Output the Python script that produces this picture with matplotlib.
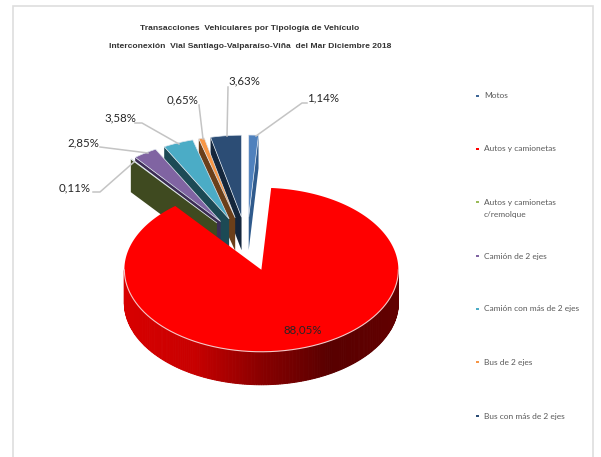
#!/usr/bin/env python3
import numpy as np
import matplotlib
matplotlib.use('Agg')
import matplotlib.pyplot as plt
from matplotlib.patches import Polygon, Rectangle
from matplotlib.colors import LinearSegmentedColormap

categorias = ['Motos', 'Autos y camionetas', 'Autos y camionetas\nc/remolque', 'Camión de 2 ejes',
              'Camión con más de 2 ejes', 'Bus de 2 ejes', 'Bus con más de 2 ejes']
valores = [1.14, 88.05, 0.11, 2.85, 3.58, 0.65, 3.63]
etiquetas = ['1,14%', '88,05%', '0,11%', '2,85%', '3,58%', '0,65%', '3,63%']

colores = ['#4f81bd', '#ff0000', '#9bbb59', '#8064a2', '#4bacc6', '#f79646', '#2c4d75']
colores_lado = ['#2f5a8c', '#a00000', '#3f4a20', '#3d2d55', '#1c4a55', '#6b3f1a', '#14263c']
colores_leyenda = ['#3f6797', '#ff0000', '#9bbb59', '#8064a2', '#4bacc6', '#f79646', '#2c4d75']

# pie geometry, in pixels
cx, cy = 247, 244
rx, ry = 137, 82
ex, ey = 48, 27
prof = 33

# label text centre and leader line for each slice
pos_texto = [(323, 98), (303, 330), (75, 188), (83, 143), (120, 118), (183, 100), (244, 81)]
lineas = [[(256, 136), (302, 103), (307, 103)],
          None,
          [(134, 162), (100, 192), (93, 192)],
          [(148, 153), (100, 147)],
          [(179, 144), (142, 123), (135, 123)],
          [(203, 139), (199, 105)],
          [(227, 136), (228, 87)]]
y_leyenda = [96, 149, 202, 256, 309, 362, 416]

sombra = LinearSegmentedColormap.from_list('sombra', ['#d80000', '#c80000', '#880000', '#580000', '#620000'])


def punto(a, x0, y0):
  t = np.radians(a)
  return x0 + rx*np.sin(t), y0 - ry*np.cos(t)


def arco(a0, a1, x0, y0):
  angulos = np.linspace(a0, a1, max(int(abs(a1-a0)*2), 2))
  return [punto(a, x0, y0) for a in angulos]


def dibuja_porcion(ax, i, a0, a1):
  medio = np.radians((a0+a1)/2)
  x0 = cx + ex*np.sin(medio)
  y0 = cy - ey*np.cos(medio)
  if i == 1:
    # big slice: front wall with a shaded strip per step
    pasos = np.arange(270, 90, -1.0)
    for a in pasos:
      p1 = punto(a, x0, y0)
      p2 = punto(a-1.0, x0, y0)
      f = (p1[0]-(x0-rx))/(2*rx)
      color = sombra(f)
      ax.add_patch(Polygon([p1, p2, (p2[0], p2[1]+prof), (p1[0], p1[1]+prof)], closed=True,
                           fc=color, ec=color, lw=0.7, zorder=10))
  else:
    # the radial wall that faces the viewer
    a_lado = a1 if abs(np.sin(np.radians(a1))) > abs(np.sin(np.radians(a0))) else a0
    r = punto(a_lado, x0, y0)
    ax.add_patch(Polygon([(x0, y0), r, (r[0], r[1]+prof), (x0, y0+prof)], closed=True,
                         fc=colores_lado[i], ec='none', zorder=2+(7-i if i > 1 else 0)))
  z = 11 if i == 1 else 2.5+(7-i if i > 1 else 0)
  cara = [(x0, y0)] + arco(a0, a1, x0, y0)
  ax.add_patch(Polygon(cara, closed=True, fc=colores[i], ec='#dfe6ee' if i != 1 else 'none', lw=0.5, zorder=z))
  if i == 1:
    frente = arco(90, 270, x0, y0)
    ax.plot([p[0] for p in frente], [p[1] for p in frente], color='#f4c8c8', lw=0.8, zorder=12)


fig = plt.figure(figsize=(6.01, 4.57), dpi=100)
ax = fig.add_axes([0, 0, 1, 1])
ax.set_xlim(0, 601)
ax.set_ylim(457, 0)
ax.axis('off')

ax.add_patch(Rectangle((12.5, 5.5), 580.5, 470, fc='white', ec='#dedede', lw=1.2, zorder=0))

total = sum(valores)
cortes = np.cumsum([0] + valores)/total*360
for i in range(len(valores)-1, -1, -1):
  dibuja_porcion(ax, i, cortes[i], cortes[i+1])

for i, linea in enumerate(lineas):
  if linea is not None:
    ax.plot([p[0] for p in linea], [p[1] for p in linea], color='#c4c4c4', lw=1.1, zorder=30)
  ax.text(pos_texto[i][0], pos_texto[i][1], etiquetas[i], ha='center', va='center', fontsize=8.3,
          family='Lato', color='#262626', zorder=31)

ax.text(250, 29, 'Transacciones  Vehiculares por Tipología de Vehículo', ha='center', va='center',
        fontsize=6.1, fontweight='bold', family='Liberation Sans', color='#333333')
ax.text(250, 46, 'Interconexión  Vial Santiago-Valparaíso-Viña  del Mar Diciembre 2018', ha='center', va='center',
        fontsize=6.1, fontweight='bold', family='Liberation Sans', color='#333333')

ax.scatter([477.5]*len(y_leyenda), y_leyenda, s=2.5, c=colores_leyenda, marker='s', linewidths=0, zorder=5)
for y, cat in zip(y_leyenda, categorias):
  ax.text(484, y-3.5, cat, ha='left', va='top', fontsize=6, family='Lato', color='#595959', linespacing=2.0)

plt.savefig('out.png', dpi=100)
plt.close()
